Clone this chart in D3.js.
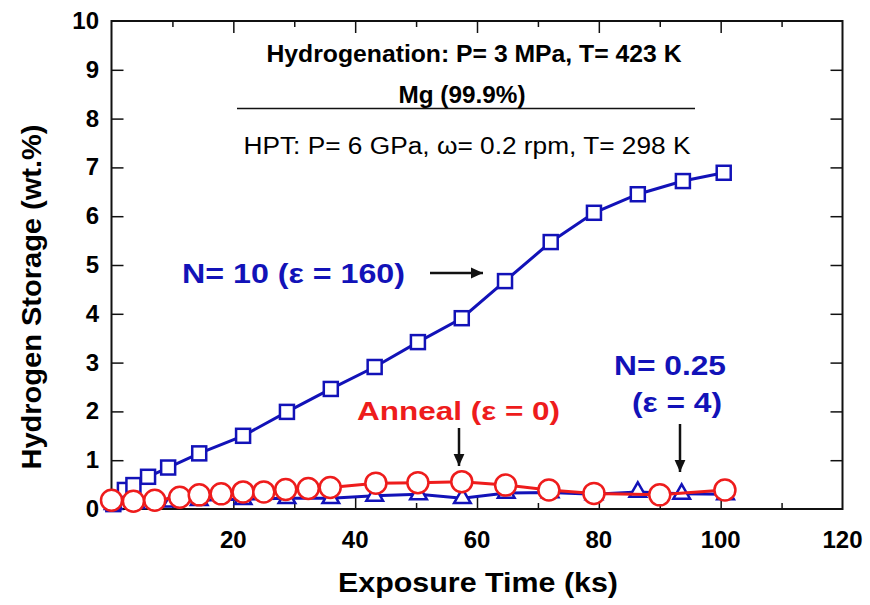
<!DOCTYPE html>
<html>
<head>
<meta charset="utf-8">
<script src="https://cdn.jsdelivr.net/npm/d3@7"></script>
<style>
  body { margin: 0; background: #fff; }
  text { font-family: "Liberation Sans", Arial, sans-serif; }
</style>
</head>
<body>
<div id="chart"></div>
<script>
// N = 10 (blue squares)
var timeN10    = [0.3, 2.2, 3.6, 6.0, 9.3, 14.4, 21.6, 28.8, 36.0, 43.2, 50.3, 57.5, 64.6, 72.1, 79.2, 86.4, 93.8, 100.5];
var storageN10 = [0.1, 0.39, 0.49, 0.66, 0.85, 1.14, 1.50, 1.99, 2.46, 2.91, 3.42, 3.91, 4.67, 5.47, 6.07, 6.45, 6.72, 6.89];

// N = 0.25 (blue triangles)
var timeN025    = [0.3, 4.0, 9.9, 14.4, 21.6, 28.8, 36.0, 43.2, 50.4, 57.6, 64.8, 72.0, 79.2, 86.4, 93.6, 100.8];
var storageN025 = [0.1, 0.12, 0.15, 0.18, 0.2, 0.22, 0.22, 0.27, 0.3, 0.22, 0.33, 0.34, 0.3, 0.35, 0.31, 0.3];

// Anneal (red circles)
var timeAnneal    = [0.0, 3.6, 7.1, 11.2, 14.4, 18.0, 21.6, 25.0, 28.6, 32.3, 35.9, 43.4, 50.3, 57.5, 64.7, 71.8, 79.2, 90.0, 100.7];
var storageAnneal = [0.18, 0.16, 0.18, 0.24, 0.29, 0.31, 0.35, 0.35, 0.40, 0.42, 0.44, 0.53, 0.54, 0.56, 0.49, 0.39, 0.32, 0.29, 0.39];

var xTickLabels = [20, 40, 60, 80, 100, 120];
var yTickLabels = [0, 1, 2, 3, 4, 5, 6, 7, 8, 9, 10];

var blue = "#1212b8";
var red = "#ee1c1c";

var w = 870, h = 605;
var pLeft = 111.5, pRight = 842.5, pTop = 21, pBottom = 509;

var svg = d3.select("#chart").append("svg")
  .attr("width", w)
  .attr("height", h);

var x = d3.scaleLinear().domain([0, 120]).range([pLeft, pRight]);
var y = d3.scaleLinear().domain([0, 10]).range([pBottom, pTop]);

var frame = svg.append("g");

// inward ticks, all four sides
var majorX = d3.range(20, 120, 20), minorX = d3.range(10, 120, 20);
var majorY = d3.range(1, 10, 1);

frame.append("g").attr("transform", "translate(0," + pBottom + ")")
  .call(d3.axisBottom(x).tickValues(majorX).tickSizeInner(-12).tickSizeOuter(0).tickFormat(""));
frame.append("g").attr("transform", "translate(0," + pBottom + ")")
  .call(d3.axisBottom(x).tickValues(minorX).tickSizeInner(-6).tickSizeOuter(0).tickFormat(""));
frame.append("g").attr("transform", "translate(0," + pTop + ")")
  .call(d3.axisTop(x).tickValues(majorX).tickSizeInner(-12).tickSizeOuter(0).tickFormat(""));
frame.append("g").attr("transform", "translate(0," + pTop + ")")
  .call(d3.axisTop(x).tickValues(minorX).tickSizeInner(-6).tickSizeOuter(0).tickFormat(""));
frame.append("g").attr("transform", "translate(" + pLeft + ",0)")
  .call(d3.axisLeft(y).tickValues(majorY).tickSizeInner(-12).tickSizeOuter(0).tickFormat(""));
frame.append("g").attr("transform", "translate(" + pRight + ",0)")
  .call(d3.axisRight(y).tickValues(majorY).tickSizeInner(-12).tickSizeOuter(0).tickFormat(""));

frame.selectAll(".domain").remove();
frame.selectAll("line").attr("stroke", "#111").attr("stroke-width", 1.5);

frame.append("rect")
  .attr("x", pLeft).attr("y", pTop)
  .attr("width", pRight - pLeft).attr("height", pBottom - pTop)
  .attr("fill", "none").attr("stroke", "#111").attr("stroke-width", 2);

// tick labels
svg.append("g").selectAll("text").data(yTickLabels).enter().append("text")
  .attr("x", 99).attr("y", function(d) { return y(d) + 8; })
  .attr("text-anchor", "end")
  .style("font-size", "24px").style("font-weight", "bold")
  .text(function(d) { return d; });

svg.append("g").selectAll("text").data(xTickLabels).enter().append("text")
  .attr("x", function(d) { return x(d); }).attr("y", 548)
  .attr("text-anchor", "middle")
  .style("font-size", "24px").style("font-weight", "bold")
  .text(function(d) { return d; });

// axis titles
svg.append("text")
  .attr("x", 478).attr("y", 592)
  .attr("text-anchor", "middle")
  .attr("textLength", 280).attr("lengthAdjust", "spacingAndGlyphs")
  .style("font-size", "28px").style("font-weight", "bold")
  .text("Exposure Time (ks)");

svg.append("text")
  .attr("transform", "translate(41,297) rotate(-90)")
  .attr("text-anchor", "middle")
  .attr("textLength", 345).attr("lengthAdjust", "spacingAndGlyphs")
  .style("font-size", "27px").style("font-weight", "bold")
  .text("Hydrogen Storage (wt.%)");

// header notes
svg.append("text")
  .attr("x", 474).attr("y", 62).attr("text-anchor", "middle")
  .attr("textLength", 415).attr("lengthAdjust", "spacingAndGlyphs")
  .style("font-size", "23px").style("font-weight", "600")
  .text("Hydrogenation: P= 3 MPa, T= 423 K");
svg.append("text")
  .attr("x", 462).attr("y", 103).attr("text-anchor", "middle")
  .attr("textLength", 127).attr("lengthAdjust", "spacingAndGlyphs")
  .style("font-size", "23px").style("font-weight", "bold")
  .text("Mg (99.9%)");
svg.append("line")
  .attr("x1", 237).attr("x2", 695).attr("y1", 108.5).attr("y2", 108.5)
  .attr("stroke", "#111").attr("stroke-width", 1.5);
svg.append("text")
  .attr("x", 467).attr("y", 154).attr("text-anchor", "middle")
  .attr("textLength", 447).attr("lengthAdjust", "spacingAndGlyphs")
  .style("font-size", "23px")
  .text("HPT: P= 6 GPa, \u03c9= 0.2 rpm, T= 298 K");

// series
var line = d3.line().x(function(d) { return x(d[0]); }).y(function(d) { return y(d[1]); });

var n10 = d3.zip(timeN10, storageN10);
var n025 = d3.zip(timeN025, storageN025);
var anneal = d3.zip(timeAnneal, storageAnneal);

svg.append("path").datum(n10).attr("d", line)
  .attr("fill", "none").attr("stroke", blue).attr("stroke-width", 3);
svg.append("g").selectAll("rect").data(n10).enter().append("rect")
  .attr("x", function(d) { return x(d[0]) - 7; })
  .attr("y", function(d) { return y(d[1]) - 7; })
  .attr("width", 14).attr("height", 14)
  .attr("fill", "#fff").attr("stroke", blue).attr("stroke-width", 2.5);

svg.append("path").datum(n025).attr("d", line)
  .attr("fill", "none").attr("stroke", blue).attr("stroke-width", 3);
var tri = d3.symbol().type(d3.symbolTriangle).size(120);
svg.append("g").selectAll("path").data(n025).enter().append("path")
  .attr("d", tri)
  .attr("transform", function(d) { return "translate(" + x(d[0]) + "," + y(d[1]) + ")"; })
  .attr("fill", "#fff").attr("stroke", blue).attr("stroke-width", 2.5);

svg.append("path").datum(anneal).attr("d", line)
  .attr("fill", "none").attr("stroke", red).attr("stroke-width", 3);
svg.append("g").selectAll("circle").data(anneal).enter().append("circle")
  .attr("cx", function(d) { return x(d[0]); })
  .attr("cy", function(d) { return y(d[1]); })
  .attr("r", 10.5)
  .attr("fill", "#fff").attr("stroke", red).attr("stroke-width", 2.5);

// labels and arrows
svg.append("defs").append("marker")
  .attr("id", "arrow")
  .attr("viewBox", "0 -5 10 10")
  .attr("refX", 10).attr("refY", 0)
  .attr("markerWidth", 5).attr("markerHeight", 5)
  .attr("markerUnits", "strokeWidth")
  .attr("orient", "auto")
  .append("path").attr("d", "M0,-4.5L10,0L0,4.5Z").attr("fill", "#111");

function arrow(x1, y1, x2, y2) {
  svg.append("line")
    .attr("x1", x1).attr("y1", y1).attr("x2", x2).attr("y2", y2)
    .attr("stroke", "#111").attr("stroke-width", 2.5)
    .attr("marker-end", "url(#arrow)");
}

svg.append("text")
  .attr("x", 182).attr("y", 283)
  .attr("textLength", 223).attr("lengthAdjust", "spacingAndGlyphs")
  .style("font-size", "27px").style("font-weight", "bold").style("fill", blue)
  .text("N= 10 (\u03b5 = 160)");
arrow(430, 273, 483, 273);

svg.append("text")
  .attr("x", 357).attr("y", 420)
  .attr("textLength", 203).attr("lengthAdjust", "spacingAndGlyphs")
  .style("font-size", "26px").style("font-weight", "bold").style("fill", red)
  .text("Anneal (\u03b5 = 0)");
arrow(459, 428, 459, 466);

svg.append("text")
  .attr("x", 670).attr("y", 375).attr("text-anchor", "middle")
  .attr("textLength", 112).attr("lengthAdjust", "spacingAndGlyphs")
  .style("font-size", "27px").style("font-weight", "bold").style("fill", blue)
  .text("N= 0.25");
svg.append("text")
  .attr("x", 677).attr("y", 412).attr("text-anchor", "middle")
  .attr("textLength", 90).attr("lengthAdjust", "spacingAndGlyphs")
  .style("font-size", "27px").style("font-weight", "bold").style("fill", blue)
  .text("(\u03b5 = 4)");
arrow(680, 424, 680, 472);
</script>
</body>
</html>
